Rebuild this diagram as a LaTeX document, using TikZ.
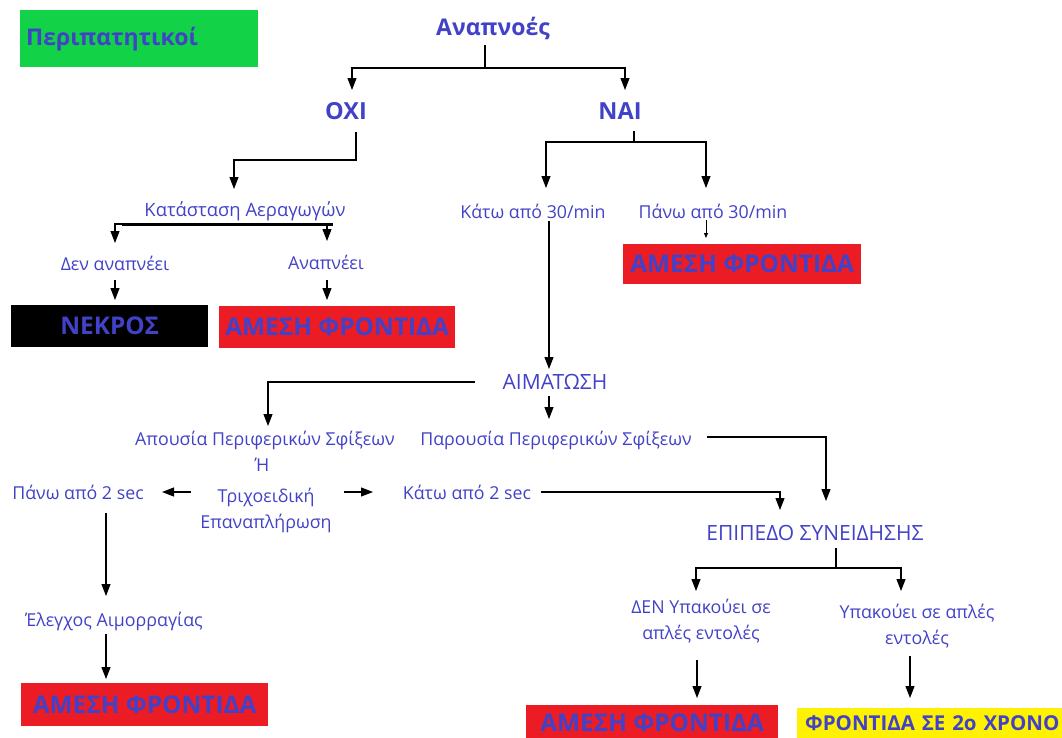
\documentclass[tikz,border=0pt]{standalone}
\usepackage{fontspec}
\setmainfont{Open Sans}
\usetikzlibrary{arrows.meta}
\definecolor{tblue}{RGB}{66,66,200}
\definecolor{gbox}{RGB}{18,210,72}
\definecolor{rbox}{RGB}{236,28,36}
\definecolor{ybox}{RGB}{255,242,0}
\begin{document}
\begin{tikzpicture}[x=1pt,y=-1pt,
  lbl/.style={text=tblue,font=\fontsize{17.8}{26}\selectfont,inner sep=1pt,align=center},
  caps/.style={text=tblue,font=\fontsize{21}{26}\selectfont,inner sep=1pt,align=center},
  big/.style={text=tblue,font=\bfseries\fontsize{23}{26}\selectfont,inner sep=0pt},
  boxtxt/.style={text=tblue,font=\bfseries\fontsize{24.4}{26}\selectfont,inner sep=0pt,anchor=north west},
  arr/.style={-{Triangle[width=9pt,length=12pt]},line width=1.1pt},
  smallarr/.style={-{Triangle[width=4pt,length=5pt]},line width=0.8pt},
  ln/.style={line width=1.1pt}]
\useasboundingbox (0,0) rectangle (1062,737);
\clip (0,0) rectangle (1062,737);
% coloured boxes
\node[boxtxt,fill=gbox,minimum width=238pt,minimum height=57pt,text width=226pt,align=left,inner xsep=6pt,font=\bfseries\fontsize{23}{26}\selectfont] (peri) at (20,10) {Περιπατητικοί};
\node[boxtxt,fill=black,minimum width=197pt,minimum height=42pt,align=center] (nekros) at (11,305) {ΝΕΚΡΟΣ};
\node[boxtxt,fill=rbox,minimum width=236pt,minimum height=42pt,align=center] (am1) at (219,306) {ΑΜΕΣΗ ΦΡΟΝΤΙΔΑ};
\node[boxtxt,fill=rbox,minimum width=238pt,minimum height=40pt,align=center] (am2) at (623,244) {ΑΜΕΣΗ ΦΡΟΝΤΙΔΑ};
\node[boxtxt,fill=rbox,minimum width=247pt,minimum height=43pt,align=center] (am3) at (21,683) {ΑΜΕΣΗ ΦΡΟΝΤΙΔΑ};
\fill[rbox] (526,705) rectangle (778,737);
\node[boxtxt,fill=rbox,minimum width=252pt,minimum height=36pt,align=center] (am4) at (526,705) {ΑΜΕΣΗ ΦΡΟΝΤΙΔΑ};
\fill[ybox] (797,708) rectangle (1062,737);
\node[boxtxt,fill=ybox,minimum width=290pt,minimum height=30pt,text width=282pt,align=left,inner xsep=8pt,font=\bfseries\fontsize{20.5}{24}\selectfont] (fr2) at (797,708) {ΦΡΟΝΤΙΔΑ ΣΕ 2ο ΧΡΟΝΟ};
% title nodes
\node[big] (anap) at (493,28) {Αναπνοές};
\node[big,font=\bfseries\fontsize{23.5}{26}\selectfont] (oxi) at (346,111) {ΟΧΙ};
\node[big,font=\bfseries\fontsize{23.5}{26}\selectfont] (nai) at (620,111) {ΝΑΙ};
% labels
\node[lbl,font=\fontsize{18.4}{26}\selectfont] (katast) at (245,211) {Κατάσταση Αεραγωγών};
\node[lbl] (den) at (115,263) {Δεν αναπνέει};
\node[lbl] (anapnei) at (326,262) {Αναπνέει};
\node[lbl] (kato30) at (533,211) {Κάτω από 30/min};
\node[lbl] (pano30) at (713,211) {Πάνω από 30/min};
\node[caps] (aim) at (555,382) {ΑΙΜΑΤΩΣΗ};
\node[lbl] (apous) at (265,440) {Απουσία Περιφερικών Σφίξεων};
\node[lbl] (i) at (262,465) {Ή};
\node[lbl] (trix) at (266,510) {Τριχοειδική\\Επαναπλήρωση};
\node[lbl] (parous) at (556,440) {Παρουσία Περιφερικών Σφίξεων};
\node[lbl] (pano2) at (78,492) {Πάνω από 2 sec};
\node[lbl] (kato2) at (467,492) {Κάτω από 2 sec};
\node[caps] (epip) at (815,533) {ΕΠΙΠΕΔΟ ΣΥΝΕΙΔΗΣΗΣ};
\node[lbl] (denyp) at (701,621) {ΔΕΝ Υπακούει σε\\απλές εντολές};
\node[lbl] (yp) at (917,626) {Υπακούει σε απλές\\εντολές};
\node[lbl] (elegx) at (114,621) {Έλεγχος Αιμορραγίας};
% connectors
\coordinate (j1) at (485,68);
\draw[ln] (485,45) -- (j1);
\draw[arr] (j1) -| (352,90);
\draw[arr] (j1) -| (625,90);
\draw[arr] (356,132) |- (234,160) -- (234,189);
\draw[line width=3pt] (122,224) -- (333,224);
\draw[arr] (122,224) -| (115,243);
\draw[arr] (327,224) -- (327,241);
\draw[arr] (115,280) -- (115,300);
\draw[arr] (327,280) -- (327,300);
\draw[arr] (634,131) |- (546,142) -- (546,188);
\draw[arr] (634,142) -- (706,142) -- (706,188);
\draw[smallarr] (706,220) -- (706,238);
\draw[arr] (549,221) -- (549,369);
\draw[arr] (475,382) -| (268,426);
\draw[arr] (549,396) -- (549,419);
\draw[arr] (707,437) -| (826,501);
\draw[arr] (191,492) -- (162,492);
\draw[arr] (344,492) -- (373,492);
\draw[arr] (541,492) -| (780,510);
\draw[arr] (836,548) -- (836,568) -| (696,591);
\draw[arr] (836,568) -| (901,591);
\draw[arr] (697,660) -- (697,698);
\draw[arr] (910,656) -- (910,698);
\draw[arr] (106,513) -- (106,596);
\draw[arr] (106,634) -- (106,679);
\end{tikzpicture}
\end{document}
